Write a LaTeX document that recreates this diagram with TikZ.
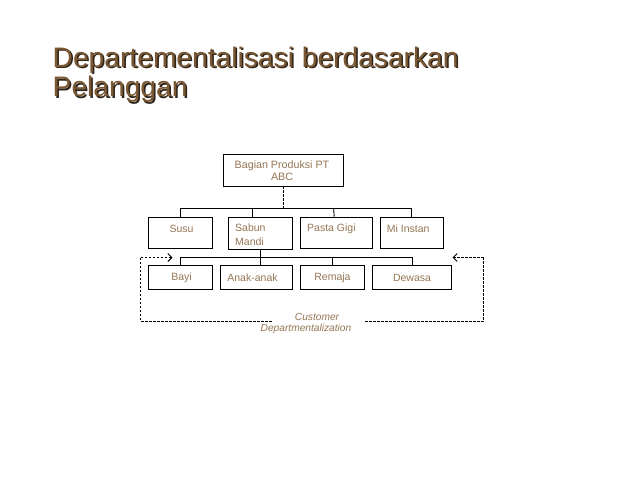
\documentclass[tikz,border=0pt]{standalone}
\usepackage{fontspec}
\setmainfont{Liberation Sans}
\usetikzlibrary{arrows.meta}
\definecolor{titlebrown}{RGB}{122,88,52}
\definecolor{titleshadow}{RGB}{45,35,25}
\definecolor{txtbrown}{RGB}{150,118,86}
\begin{document}
\begin{tikzpicture}[x=1pt,y=-1pt,
  box/.style={draw=black, line width=0.9pt, inner sep=0pt},
  lbl/.style={text=txtbrown, font=\fontsize{10.5}{13.5}\selectfont, inner sep=0pt},
  ilbl/.style={text=txtbrown, font=\fontsize{10.2}{12}\selectfont\itshape, inner sep=0pt},
  conn/.style={line width=0.9pt},
  dconn/.style={line width=0.8pt, dash pattern=on 2.5pt off 1.5pt},
  tip/.style={-{Straight Barb[length=4pt,width=8pt,line width=1pt]}},
  ttl/.style={font=\fontsize{28.2}{30}\selectfont, inner sep=0pt, anchor=base west}]
\useasboundingbox[fill=white] (0,0) rectangle (638,479);

% title with shadow
\node[ttl, text=titleshadow] (t1s) at (54,68.8) {Departementalisasi berdasarkan};
\node[ttl, text=titlebrown] (t1) at (52.5,67.3) {Departementalisasi berdasarkan};
\node[ttl, text=titleshadow] (t2s) at (54,98.2) {Pelanggan};
\node[ttl, text=titlebrown] (t2) at (52.5,96.7) {Pelanggan};

% boxes
\node[box, minimum width=120pt, minimum height=32pt] (top) at (283.3,170) {};
\node[box, minimum width=64pt, minimum height=31pt] (susu) at (180.3,232.5) {};
\node[box, minimum width=64.4pt, minimum height=32pt] (sabun) at (260.5,233) {};
\node[box, minimum width=72.3pt, minimum height=31pt] (pasta) at (336.2,232.5) {};
\node[box, minimum width=63.3pt, minimum height=31pt] (mi) at (411.7,232.5) {};
\node[box, minimum width=64pt, minimum height=23.6pt] (bayi) at (180.3,277.5) {};
\node[box, minimum width=71.6pt, minimum height=23.6pt] (anak) at (256.5,277.5) {};
\node[box, minimum width=63.3pt, minimum height=23.6pt] (remaja) at (332.3,277.5) {};
\node[box, minimum width=79.2pt, minimum height=23.6pt] (dewasa) at (411.9,277.5) {};

% labels
\node[lbl, align=center, font=\fontsize{10.7}{12}\selectfont] (topt) at (282,171) {Bagian Produksi PT\\ABC};
\node[lbl] (susut) at (181.5,228.5) {Susu};
\node[lbl, align=left, anchor=west] (sabunt) at (235,234.5) {Sabun\\Mandi};
\node[lbl, anchor=west] (pastat) at (307,228.5) {Pasta Gigi};
\node[lbl, anchor=west] (mit) at (386.7,228.5) {Mi Instan};
\node[lbl] (bayit) at (181.5,277.5) {Bayi};
\node[lbl] (anakt) at (252.5,277.5) {Anak-anak};
\node[lbl] (remajat) at (332.5,277.5) {Remaja};
\node[lbl] (dewasat) at (412,277.5) {Dewasa};
\node[ilbl] (cust1) at (317,316.5) {Customer};
\node[ilbl] (cust2) at (306,328.5) {Departmentalization};

% upper tree
\coordinate (busA) at (284,208);
\draw[dconn] (top.south) -- (top.south |- busA);
\draw[conn] (susu.north) -- (susu.north |- busA) -- (mi.north |- busA) -- (mi.north);
\draw[conn] ([xshift=-7.8pt]sabun.north) -- ([xshift=-7.8pt]sabun.north |- busA);
\draw[conn] ([xshift=-2pt]pasta.north) -- ([xshift=-2.6pt]pasta.north |- busA);

% lower tree
\coordinate (busB) at (260.7,257.3);
\draw[conn] (sabun.south) -- (sabun.south |- busB);
\draw[conn] (bayi.north) -- (bayi.north |- busB) -- ([xshift=0.8pt]dewasa.north |- busB) -- ([xshift=0.8pt]dewasa.north);
\draw[conn] ([xshift=4.2pt]anak.north) -- ([xshift=4.2pt]anak.north |- busB);
\draw[conn] (remaja.north) -- (remaja.north |- busB);

% dashed customer loop
\coordinate (Lc) at (140.7,257.5);
\coordinate (Lb) at (140.7,321);
\coordinate (Rc) at (483.5,257.5);
\coordinate (Rb) at (483.5,321);
\coordinate (La) at (172.5,257.5);
\coordinate (Ra) at (452.5,257.5);
\coordinate (gapL) at (271.7,321);
\coordinate (gapR) at (365,321);
\draw[dconn] (gapL) -- (Lb) -- (Lc);
\draw[dconn, tip] (Lc) -- (La);
\draw[dconn] (gapR) -- (Rb) -- (Rc);
\draw[dconn, tip] (Rc) -- (Ra);
\end{tikzpicture}
\end{document}
